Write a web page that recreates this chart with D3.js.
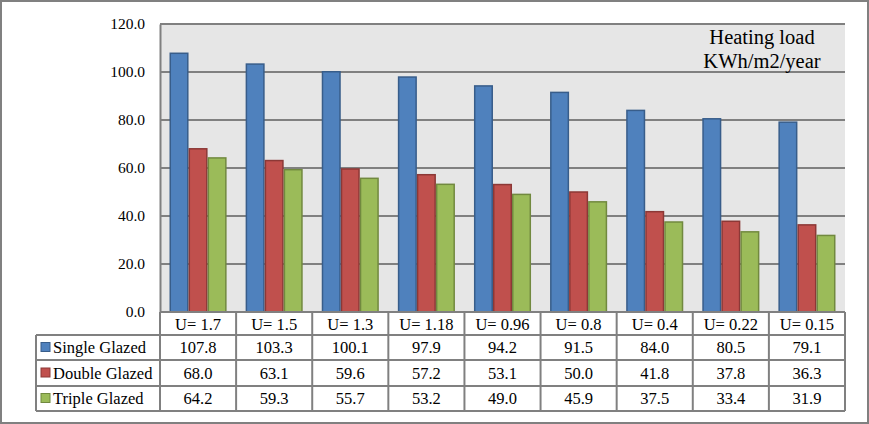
<!DOCTYPE html>
<html>
<head>
<meta charset="utf-8">
<script src="https://cdn.jsdelivr.net/npm/d3@7"></script>
<style>
  body { margin: 0; background: #fff; }
  svg { display: block; }
</style>
</head>
<body>
<svg id="chart"></svg>
<script>
const categories = ['U= 1.7', 'U= 1.5', 'U= 1.3', 'U= 1.18', 'U= 0.96', 'U= 0.8', 'U= 0.4', 'U= 0.22', 'U= 0.15'];
const seriesNames = ['Single Glazed', 'Double Glazed', 'Triple Glazed'];
const singleGlazed = [107.8, 103.3, 100.1, 97.9, 94.2, 91.5, 84.0, 80.5, 79.1];
const doubleGlazed = [68.0, 63.1, 59.6, 57.2, 53.1, 50.0, 41.8, 37.8, 36.3];
const tripleGlazed = [64.2, 59.3, 55.7, 53.2, 49.0, 45.9, 37.5, 33.4, 31.9];
const yTicks = [0, 20, 40, 60, 80, 100, 120];

const series = [singleGlazed, doubleGlazed, tripleGlazed];
const fills = ['#4F81BD', '#C0504D', '#9BBB59'];
const strokes = ['#385D8A', '#8C3836', '#71893F'];

const width = 869, height = 424;
const plot = { left: 160, right: 845, top: 24, bottom: 312 };
const tableLeft = 36;
const rowLines = [312, 335, 360, 386, 411];
const font = '"Liberation Serif", "Times New Roman", serif';

const svg = d3.select('#chart').attr('width', width).attr('height', height);

// Outer frame
svg.append('rect')
  .attr('x', 1).attr('y', 1)
  .attr('width', width - 2).attr('height', height - 2)
  .attr('fill', '#fff').attr('stroke', '#808080').attr('stroke-width', 2);

const x = d3.scaleBand().domain(categories).range([plot.left, plot.right]).padding(0);
const y = d3.scaleLinear().domain([0, 120]).range([plot.bottom, plot.top]);

// Plot background
svg.append('rect')
  .attr('x', plot.left).attr('y', plot.top)
  .attr('width', plot.right - plot.left).attr('height', plot.bottom - plot.top)
  .attr('fill', '#E6E6E6');

// Grid lines
svg.append('g')
  .selectAll('line')
  .data(yTicks)
  .enter()
  .append('line')
  .attr('x1', plot.left).attr('x2', plot.right)
  .attr('y1', d => y(d)).attr('y2', d => y(d))
  .attr('stroke', '#808080').attr('stroke-width', 2);

// Y axis
const yAxis = svg.append('g')
  .attr('transform', `translate(${plot.left},0)`)
  .call(d3.axisLeft(y).tickValues(yTicks).tickFormat(d3.format('.1f')).tickSize(0).tickPadding(15));
yAxis.select('.domain').attr('stroke', '#808080').attr('stroke-width', 2);
yAxis.selectAll('text')
  .style('font-family', font).style('font-size', '15.5px').attr('fill', '#000');

// Bars
const barW = x.bandwidth() / 4;
series.forEach((vals, s) => {
  svg.append('g')
    .selectAll('rect')
    .data(vals)
    .enter()
    .append('rect')
    .attr('x', (d, i) => x(categories[i]) + barW * 0.5 + s * barW + 0.75)
    .attr('y', d => y(d))
    .attr('width', barW - 1.5)
    .attr('height', d => plot.bottom - y(d))
    .attr('fill', fills[s])
    .attr('stroke', strokes[s])
    .attr('stroke-width', 1.5);
});

// Title
const title = svg.append('text')
  .attr('text-anchor', 'middle')
  .style('font-family', font).style('font-size', '20.5px');
title.append('tspan').attr('x', 762).attr('y', 44).text('Heating load');
title.append('tspan').attr('x', 762).attr('y', 68).text('KWh/m2/year');

// Data table
const table = svg.append('g');
const lineStyle = sel => sel.attr('stroke', '#808080').attr('stroke-width', 2);

// horizontal lines
rowLines.forEach((ry, i) => {
  table.append('line')
    .attr('x1', i === 0 ? plot.left : tableLeft).attr('x2', plot.right)
    .attr('y1', ry).attr('y2', ry)
    .call(lineStyle);
});
// vertical lines
categories.forEach(c => {
  table.append('line')
    .attr('x1', x(c)).attr('x2', x(c))
    .attr('y1', rowLines[0]).attr('y2', rowLines[4])
    .call(lineStyle);
});
table.append('line')
  .attr('x1', plot.right).attr('x2', plot.right)
  .attr('y1', rowLines[0]).attr('y2', rowLines[4])
  .call(lineStyle);
table.append('line')
  .attr('x1', tableLeft).attr('x2', tableLeft)
  .attr('y1', rowLines[1]).attr('y2', rowLines[4])
  .call(lineStyle);

// header labels
table.selectAll('.cat')
  .data(categories)
  .enter()
  .append('text')
  .attr('x', d => x(d) + x.bandwidth() / 2)
  .attr('y', (rowLines[0] + rowLines[1]) / 2 + 6)
  .attr('text-anchor', 'middle')
  .style('font-family', font).style('font-size', '16.5px')
  .text(d => d);

// rows
series.forEach((vals, s) => {
  const cy = (rowLines[s + 1] + rowLines[s + 2]) / 2;
  table.append('rect')
    .attr('x', 41).attr('y', cy - 5)
    .attr('width', 9).attr('height', 9)
    .attr('fill', fills[s]).attr('stroke', strokes[s]).attr('stroke-width', 1);
  table.append('text')
    .attr('x', 53).attr('y', cy + 5.5)
    .style('font-family', font).style('font-size', '16.5px')
    .text(seriesNames[s]);
  table.selectAll('.v' + s)
    .data(vals)
    .enter()
    .append('text')
    .attr('x', (d, i) => x(categories[i]) + x.bandwidth() / 2)
    .attr('y', cy + 5.5)
    .attr('text-anchor', 'middle')
    .style('font-family', font).style('font-size', '16.5px')
    .text(d => d.toFixed(1));
});
</script>
</body>
</html>
